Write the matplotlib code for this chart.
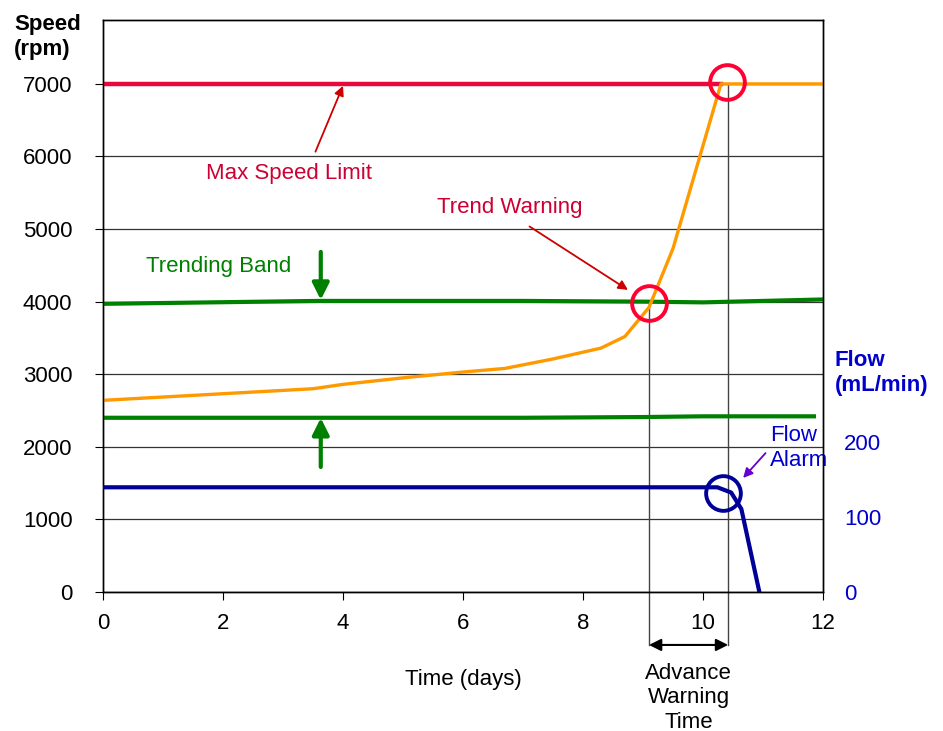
import matplotlib
matplotlib.use("Agg")
import matplotlib.pyplot as plt

plt.rcParams['font.family'] = ['Liberation Sans', 'DejaVu Sans']
plt.rcParams['font.size'] = 16

# speed (rpm) vs time (days)
speed_days = [0, 3.5, 4, 5, 6, 6.7, 7.5, 8.3, 8.7, 9.1, 9.5, 10.3, 12]
speed_rpm = [2640, 2800, 2860, 2950, 3030, 3080, 3210, 3360, 3520, 3920, 4730, 7000, 7000]

# trending band
band_days = [0, 3.6, 7, 9, 10, 12]
band_upper = [3970, 4010, 4010, 4000, 3990, 4030]
band_low_days = [0, 3.6, 7, 9, 10, 11.85]
band_lower = [2400, 2400, 2400, 2410, 2420, 2420]

# max speed limit
limit_days = [0, 10.3]
limit_rpm = [7000, 7000]

# flow (mL/min)
flow_days = [0, 10.24, 10.47, 10.64, 10.94]
flow_vals = [140, 140, 133, 111, 0]

warning_day = 9.1
limit_hit_day = 10.42

fig = plt.figure(figsize=(9.43, 7.31), dpi=100)
ax = fig.add_axes([0.1092, 0.1902, 0.7635, 0.7824])
ax2 = ax.twinx()

ax.set_xlim(0, 12)
ax.set_ylim(0, 7880)
ax2.set_ylim(0, 765)

ax.set_yticks(range(0, 8000, 1000))
ax.set_xticks(range(0, 13, 2))
ax.yaxis.grid(True, color='#333333', lw=0.9)
ax.set_axisbelow(True)
ax.tick_params(axis='y', direction='out', length=6, pad=16, labelsize=16)
ax.tick_params(axis='x', direction='out', length=6, pad=9, labelsize=16)
ax2.set_yticks([0, 100, 200])
ax2.tick_params(axis='y', length=0, pad=15, labelsize=16, labelcolor='#0000CC')
for a in (ax, ax2):
    for s in a.spines.values():
        s.set_color('black')
        s.set_linewidth(1)

# vertical markers
ax.plot([warning_day, warning_day], [4000, -730], color='#444444', lw=1, clip_on=False, zorder=1)
ax.plot([limit_hit_day, limit_hit_day], [7000, -730], color='#444444', lw=1, clip_on=False, zorder=1)
ax.annotate('', xy=(limit_hit_day, -730), xytext=(warning_day, -730),
            arrowprops=dict(arrowstyle='<|-|>', color='black', lw=1.5, mutation_scale=18,
                            shrinkA=0, shrinkB=0), annotation_clip=False)
ax.text((warning_day + limit_hit_day) / 2, -1460, 'Advance\nWarning\nTime', ha='center', va='center',
        fontsize=16, linespacing=1.2, clip_on=False)

# lines
ax.plot(limit_days, limit_rpm, color='#E8083E', lw=3.2, zorder=3)
ax.plot(band_days, band_upper, color='#008000', lw=3, zorder=3)
ax.plot(band_low_days, band_lower, color='#008000', lw=3, zorder=3)
ax.plot(speed_days, speed_rpm, color='#FF9900', lw=2.4, zorder=4)
ax2.plot(flow_days, flow_vals, color='#000099', lw=3, zorder=4)

# circles
ax.plot([10.4], [7020], 'o', ms=25, mfc='none', mec='#FF0033', mew=2.8, zorder=5)
ax.plot([9.1], [3980], 'o', ms=25, mfc='none', mec='#FF0033', mew=2.8, zorder=5)
ax2.plot([10.33], [133], 'o', ms=25, mfc='none', mec='#000099', mew=2.8, zorder=5)

# annotations
ax.annotate('Max Speed Limit', xy=(4.0, 6973), xytext=(3.1, 5760), ha='center', va='center',
            color='#CC0033', fontsize=16,
            arrowprops=dict(arrowstyle='-|>', color='#CC0000', lw=1.3, mutation_scale=14,
                            shrinkA=7, shrinkB=0, relpos=(0.63, 1)))
ax.annotate('Trend Warning', xy=(8.75, 4162), xytext=(6.78, 5291), ha='center', va='center',
            color='#CC0033', fontsize=16,
            arrowprops=dict(arrowstyle='-|>', color='#CC0000', lw=1.3, mutation_scale=14,
                            shrinkA=7, shrinkB=0, relpos=(0.55, 0)))
ax.text(1.92, 4478, 'Trending Band', ha='center', va='center', color='#008000', fontsize=16)
ax.annotate('', xy=(3.63, 4024), xytext=(3.63, 4685),
            arrowprops=dict(arrowstyle='-|>', color='#008000', lw=3, mutation_scale=25,
                            shrinkA=0, shrinkB=0))
ax.annotate('', xy=(3.63, 2398), xytext=(3.63, 1722),
            arrowprops=dict(arrowstyle='-|>', color='#008000', lw=3, mutation_scale=25,
                            shrinkA=0, shrinkB=0))
ax.annotate('Flow\nAlarm', xy=(10.67, 1571), xytext=(11.12, 1984), ha='left', va='center',
            color='#0000CC', fontsize=16, linespacing=1.2, annotation_clip=False,
            arrowprops=dict(arrowstyle='-|>', color='#6600CC', lw=1.3, mutation_scale=14,
                            shrinkA=2, shrinkB=0, relpos=(0, 0.5)))

# axis titles
fig.text(14 / 943, 1 - 37 / 731, 'Speed\n(rpm)', ha='left', va='center', fontsize=16,
         fontweight='bold', linespacing=1.2)
fig.text(835 / 943, 1 - 373 / 731, 'Flow\n(mL/min)', ha='left', va='center', fontsize=16,
         fontweight='bold', color='#0000CC', linespacing=1.2)
fig.text(463 / 943, 1 - 680 / 731, 'Time (days)', ha='center', va='center', fontsize=16)

fig.savefig('out.png', dpi=100)
